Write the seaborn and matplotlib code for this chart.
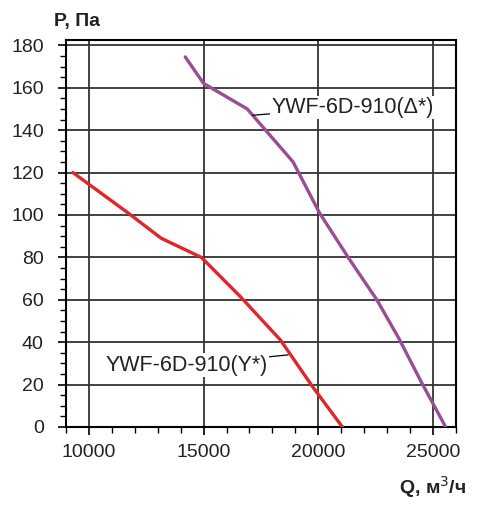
import matplotlib
matplotlib.use("Agg")
import matplotlib.pyplot as plt
from matplotlib.ticker import MultipleLocator
import pandas as pd
import seaborn as sns

# fan curves
q_star = [9300, 11700, 13150, 14900, 16600, 18350, 19750, 21050]
p_star = [120, 101, 89, 80, 61.5, 41, 19, 0]
q_delta = [14200, 15000, 16900, 18900, 20050, 21300, 22550, 23500, 24500, 25550]
p_delta = [174.5, 162, 150, 125, 101, 80, 60, 42, 21, 0]

label_star = "YWF-6D-910(Y*)"
label_delta = "YWF-6D-910(Δ*)"

sns.set_style("ticks")
plt.rcParams['font.family'] = ['Liberation Sans', 'DejaVu Sans']
txt = "#222222"

fig = plt.figure(figsize=(4.83, 5.05), dpi=100)
ax = fig.add_axes([0.1366, 0.1545, 0.8074, 0.7663])

star = pd.DataFrame({"Q": q_star, "P": p_star})
delta = pd.DataFrame({"Q": q_delta, "P": p_delta})
sns.lineplot(data=star, x="Q", y="P", sort=False, color="#e0262a", lw=2.4, ax=ax, zorder=3)
sns.lineplot(data=delta, x="Q", y="P", sort=False, color="#9a4d96", lw=2.4, ax=ax, zorder=3)

ax.set_xlim(9000, 26000)
ax.set_ylim(0, 182.5)
ax.xaxis.set_major_locator(MultipleLocator(5000))
ax.xaxis.set_minor_locator(MultipleLocator(1000))
ax.yaxis.set_major_locator(MultipleLocator(20))
ax.yaxis.set_minor_locator(MultipleLocator(5))
ax.grid(True, which="major", color="#333333", lw=1.3)
ax.set_axisbelow(True)
ax.tick_params(which="major", length=6, width=1.2, labelsize=14, colors="black",
               labelcolor=txt)
ax.tick_params(axis="y", which="major", pad=10)
ax.tick_params(axis="x", which="major", pad=6)
ax.tick_params(which="minor", length=4, width=1.0, colors="black")
for s in ax.spines.values():
    s.set_visible(True)
    s.set_color("black")
    s.set_linewidth(1.5)
ax.set_xlabel("")
ax.set_ylabel("")

ax.annotate(label_delta, xy=(17130, 147), xytext=(17950, 150.8),
            fontsize=15.5, color=txt, va="center", ha="left",
            bbox=dict(boxstyle="square,pad=0.05", fc="white", ec="none"),
            arrowprops=dict(arrowstyle="-", color="black", lw=0.9, shrinkA=0, shrinkB=0),
            zorder=4)
ax.annotate(label_star, xy=(18680, 34), xytext=(17820, 29.2),
            fontsize=15.5, color=txt, va="center", ha="right",
            bbox=dict(boxstyle="square,pad=0.05", fc="white", ec="none"),
            arrowprops=dict(arrowstyle="-", color="black", lw=0.9, shrinkA=0, shrinkB=0),
            zorder=4)

fig.text(0.112, 0.958, "P, Па", fontsize=14, fontweight="bold", color=txt, ha="left", va="center")
fig.text(0.965, 0.036, "Q, м$^3$/ч", fontsize=14, fontweight="bold", color=txt, ha="right", va="center")

fig.savefig("out.png", dpi=100, facecolor="white")
